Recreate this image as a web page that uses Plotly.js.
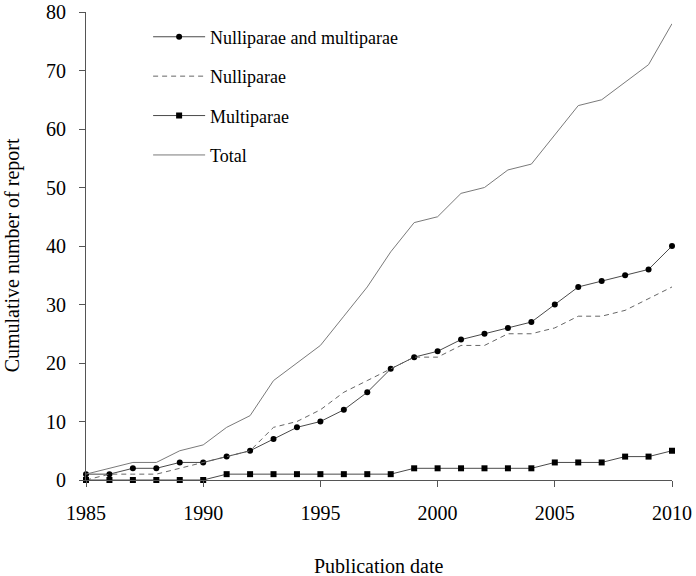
<!DOCTYPE html>
<html>
<head>
<meta charset="utf-8">
<script src="https://cdn.plot.ly/plotly-3.0.1.min.js"></script>
<style>html,body{margin:0;padding:0;background:#fff;}#chart{width:696px;height:576px;}</style>
</head>
<body>
<div id="chart"></div>
<script>
const years = [1985,1986,1987,1988,1989,1990,1991,1992,1993,1994,1995,1996,1997,1998,1999,2000,2001,2002,2003,2004,2005,2006,2007,2008,2009,2010];
const nulliAndMulti = [1,1,2,2,3,3,4,5,7,9,10,12,15,19,21,22,24,25,26,27,30,33,34,35,36,40];
const nulliparae = [0,1,1,1,2,3,4,5,9,10,12,15,17,19,21,21,23,23,25,25,26,28,28,29,31,33];
const multiparae = [0,0,0,0,0,0,1,1,1,1,1,1,1,1,2,2,2,2,2,2,3,3,3,4,4,5];
const total = [1,2,3,3,5,6,9,11,17,20,23,28,33,39,44,45,49,50,53,54,59,64,65,68,71,78];
const xTicks = [1985,1990,1995,2000,2005,2010];
const yTicks = [0,10,20,30,40,50,60,70,80];

const FONT = 'Liberation Serif, Times New Roman, serif';

const traces = [
  {x: years, y: nulliAndMulti, name: 'Nulliparae and multiparae', mode: 'lines+markers',
   line: {color: '#4a4a4a', width: 1}, marker: {symbol: 'circle', size: 6, color: '#000'},
   cliponaxis: false, legendgroup: 'a'},
  {x: years, y: nulliparae, name: 'Nulliparae', mode: 'lines',
   line: {color: '#666', width: 1, dash: '5px,4px'}, cliponaxis: false, legendgroup: 'b'},
  {x: years, y: multiparae, name: 'Multiparae', mode: 'lines+markers',
   line: {color: '#4a4a4a', width: 1}, marker: {symbol: 'square', size: 6, color: '#000'},
   cliponaxis: false, legendgroup: 'c'},
  {x: years, y: total, name: 'Total', mode: 'lines',
   line: {color: '#7a7a7a', width: 1}, cliponaxis: false, legendgroup: 'd'}
];

const layout = {
  width: 696, height: 576,
  margin: {l: 86, r: 24, t: 12, b: 96},
  paper_bgcolor: '#fff', plot_bgcolor: '#fff',
  font: {family: FONT, size: 20, color: '#000'},
  showlegend: true,
  legend: {x: 0.106, y: 0.986, xanchor: 'left', yanchor: 'top', bgcolor: 'rgba(0,0,0,0)',
           font: {family: FONT, size: 18, color: '#000'}, traceorder: 'grouped',
           tracegroupgap: 13, itemwidth: 52},
  xaxis: {range: [1985, 2010], tickvals: xTicks, ticktext: xTicks.map(String),
          showgrid: false, zeroline: false, showline: true, linecolor: '#555', linewidth: 1,
          ticks: 'outside', ticklen: 6, tickcolor: '#555', ticklabelstandoff: 9,
          tickfont: {family: FONT, size: 20, color: '#000'}, fixedrange: true},
  yaxis: {range: [0, 80], tickvals: yTicks, ticktext: yTicks.map(String),
          showgrid: false, zeroline: false, showline: true, linecolor: '#555', linewidth: 1,
          ticks: 'outside', ticklen: 6, tickcolor: '#555', ticklabelstandoff: 9,
          tickfont: {family: FONT, size: 20, color: '#000'}, fixedrange: true},
  annotations: [
    {text: 'Publication date', xref: 'paper', yref: 'paper', x: 0.5, y: -0.184,
     xanchor: 'center', yanchor: 'middle', showarrow: false, font: {family: FONT, size: 20, color: '#000'}},
    {text: 'Cumulative number of report', xref: 'paper', yref: 'paper', x: -0.1263, y: 0.48,
     xanchor: 'center', yanchor: 'middle', textangle: -90, showarrow: false,
     font: {family: FONT, size: 20, color: '#000'}}
  ]
};

Plotly.newPlot('chart', traces, layout, {displayModeBar: false, staticPlot: true});
</script>
</body>
</html>
